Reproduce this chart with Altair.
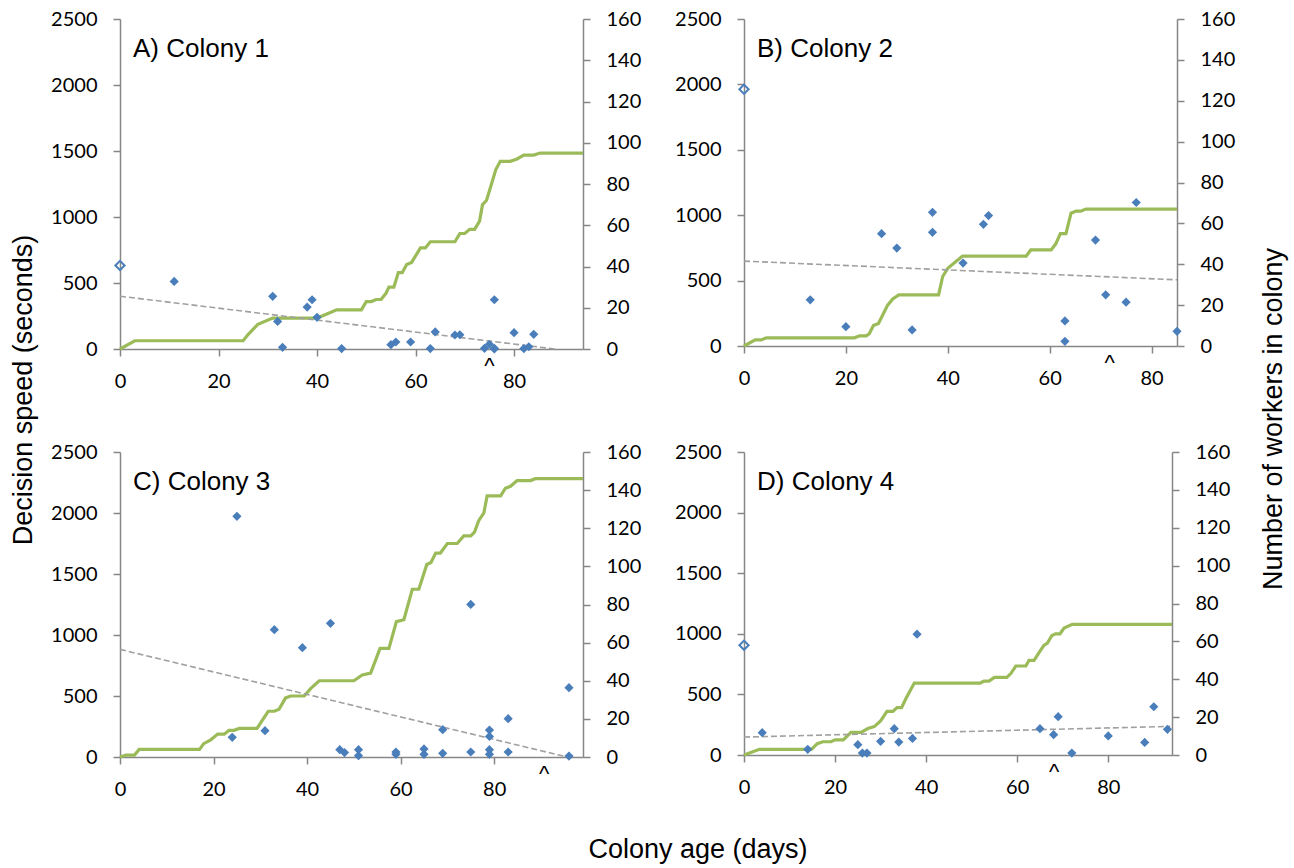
import altair as alt
import pandas as pd

BLUE = "#4A7EBB"
GREEN = "#9BBB59"
AX = "#868686"
TREND = "#A0A0A0"

# ---------------- data ----------------
# Colony 1
a_days = [11, 31, 32, 33, 38, 39, 40, 45, 55, 56, 59, 63, 64, 68, 69, 74, 75, 76, 76, 76, 80, 82, 83, 84]
a_speed = [512, 399, 209, 13, 318, 373, 240, 3, 33, 53, 53, 3, 129, 106, 108, 5, 36, 5, 0, 373, 124, 3, 17, 111]
a_open_day = [0]
a_open_speed = [633]
a_line_day = [0, 3, 25, 26, 28, 31, 40, 42, 44, 49, 50, 51, 52, 53, 54, 54.6, 55.6, 56.5, 57.3, 58.2, 59.2,
              61, 62, 63, 68, 69, 70, 71, 72, 73, 73.6, 74.4, 75.3, 76.3, 77.2, 79.2, 80.5, 82, 84, 85.3, 94]
a_line_workers = [0, 4, 4, 7, 12, 15, 15, 17, 19, 19, 23, 23, 24, 24, 27, 30, 30, 37, 37, 41, 42,
                  49, 49, 52, 52, 56, 56, 58, 58, 62, 70, 72, 79, 87, 91, 91, 92, 94, 94, 95, 95]
a_trend_day = [0, 88.3]
a_trend_speed = [400, 0]
a_caret_day = [75]

# Colony 2
b_days = [13, 20, 27, 30, 33, 37, 37, 43, 47, 48, 63, 63, 69, 71, 75, 77, 85]
b_speed = [353, 148, 859, 749, 123, 1022, 869, 634, 930, 997, 192, 36, 810, 391, 335, 1097, 112]
b_open_day = [0]
b_open_speed = [1963]
b_line_day = [0, 2.2, 3.4, 4.4, 21.7, 22.7, 24, 24.6, 25.4, 26.4, 28.2, 29.2, 30.4, 38.2, 39, 40, 42.9,
              55.4, 56.3, 60.3, 61.2, 62.1, 63.2, 64.2, 65.2, 66.1, 67.1, 85]
b_line_workers = [0, 3, 3, 4, 4, 5, 5, 6, 10, 11, 20, 23, 25, 25, 34, 38, 44,
                  44, 47, 47, 50, 55, 55, 65, 66, 66, 67, 67]
b_trend_day = [0, 85]
b_trend_speed = [649, 506]
b_caret_day = [71.8]

# Colony 3
c_days = [24, 25, 31, 33, 39, 45, 47, 48, 51, 51, 59, 59, 65, 65, 69, 69, 75, 75, 79, 79, 79, 79, 83, 83, 96, 96]
c_speed = [161, 1973, 216, 1044, 896, 1096, 60, 36, 60, 11, 41, 22, 66, 22, 224, 30, 1251, 41, 221, 169, 60, 22, 314, 41, 568, 8]
c_open_day = []
c_open_speed = []
c_line_day = [0, 1.3, 3.1, 4.1, 17, 17.9, 19.4, 20.9, 22.3, 23.3, 24.4, 25.5, 29.3, 30.1, 31.7, 33, 34, 35.4,
              36.5, 39.4, 40.8, 42.6, 50, 51.8, 53.6, 55.6, 57.5, 59.1, 60.7, 62.5, 63.9, 65.6, 66.5, 67.5,
              68.5, 70, 72.1, 73.5, 75, 75.8, 76.7, 77.8, 78.5, 81.4, 82.4, 83.5, 84.9, 87.8, 88.8, 99]
c_line_workers = [0, 1, 1, 4, 4, 7, 9, 12, 12, 14, 14, 15, 15, 18, 24, 24, 25, 31,
                  32, 32, 36, 40, 40, 43, 44, 57, 57, 71, 72, 88, 88, 101, 102, 107,
                  107, 112, 112, 116, 116, 118, 124, 128, 137, 137, 141, 142, 145, 145, 146, 146]
c_trend_day = [0, 95.6]
c_trend_speed = [882, 0]
c_caret_day = [90.7]

# Colony 4
d_days = [4, 14, 25, 26, 27, 30, 33, 34, 37, 38, 65, 68, 69, 72, 80, 88, 90, 93]
d_speed = [184, 47, 85, 16, 16, 113, 217, 107, 137, 997, 217, 168, 316, 16, 157, 104, 398, 212]
d_open_day = [0]
d_open_speed = [906]
d_line_day = [0, 3.4, 14.8, 16.1, 17.3, 19.1, 20, 21.8, 23.5, 25.7, 27.2, 28.6, 30, 31.4, 32.7, 33.6, 34.6,
              35.6, 37.4, 51.9, 52.7, 53.8, 55, 57.7, 58.6, 59.7, 61.9, 62.6, 63.7, 64.8, 65.9, 66.6, 67.6,
              68.4, 69.4, 70.3, 72.1, 94]
d_line_workers = [0, 3, 3, 6, 7, 7, 8, 8, 12, 12, 14, 15, 18, 23, 23, 25, 25,
                  30, 38, 38, 39, 39, 41, 41, 43, 47, 47, 50, 50, 54, 58, 59, 63,
                  64, 64, 67, 69, 69]
d_trend_day = [0, 93.6]
d_trend_speed = [148, 236]
d_caret_day = [68.1]

labels = ["A) Colony 1", "B) Colony 2", "C) Colony 3", "D) Colony 4"]
x_max = [94, 85, 99, 94]
x_ticks = [0, 20, 40, 60, 80]
speed_ticks = [0, 500, 1000, 1500, 2000, 2500]
worker_ticks = [0, 20, 40, 60, 80, 100, 120, 140, 160]

TICK_FONT = "Lato"
TEXT_FONT = "Liberation Sans"


def axis_common(**kw):
    return alt.Axis(title=None, grid=False, domainColor=AX, domainWidth=1.5, tickColor=AX,
                    tickWidth=1.5, tickSize=7, labelFont=TICK_FONT, labelFontSize=20,
                    labelColor="black", labelOverlap=False, format="d", **kw)


def panel(days, speed, open_day, open_speed, line_day, line_workers, trend_day, trend_speed,
          caret_day, label, xmax, w, h, extra=None):
    xenc = alt.X("day:Q", scale=alt.Scale(domain=[0, xmax], nice=False, zero=False),
                 axis=axis_common(values=x_ticks, labelPadding=15, labelFlush=False))
    yscale = alt.Scale(domain=[0, 2500], nice=False)
    yaxis = axis_common(values=speed_ticks, orient="left", labelPadding=16)

    line = alt.Chart(pd.DataFrame({"day": line_day, "workers": line_workers})).mark_line(
        color=GREEN, strokeWidth=3.2, interpolate="linear"
    ).encode(
        x=xenc,
        y=alt.Y("workers:Q", scale=alt.Scale(domain=[0, 160], nice=False),
                axis=axis_common(values=worker_ticks, orient="right", labelPadding=16)),
    )

    trend = alt.Chart(pd.DataFrame({"day": trend_day, "speed": trend_speed})).mark_line(
        color=TREND, strokeWidth=1.6, strokeDash=[6, 3]
    ).encode(x=xenc, y=alt.Y("speed:Q", scale=yscale, axis=yaxis))

    pts = alt.Chart(pd.DataFrame({"day": days, "speed": speed})).mark_point(
        shape="diamond", filled=True, size=85, color=BLUE, opacity=1
    ).encode(x=xenc, y=alt.Y("speed:Q", scale=yscale, axis=yaxis))

    left_layers = [trend, pts]
    if open_day:
        openp = alt.Chart(pd.DataFrame({"day": open_day, "speed": open_speed})).mark_point(
            shape="diamond", filled=False, size=85, color=BLUE, strokeWidth=2, opacity=1
        ).encode(x=xenc, y=alt.Y("speed:Q", scale=yscale, axis=yaxis))
        left_layers.append(openp)

    caret = alt.Chart(pd.DataFrame({"day": caret_day, "t": ["^"] * len(caret_day)})).mark_text(
        font=TEXT_FONT, fontSize=22, color="black", baseline="alphabetic", align="center"
    ).encode(x=xenc, y=alt.value(h + 24), text="t:N")

    lab = alt.Chart(pd.DataFrame({"t": [label]})).mark_text(
        font=TEXT_FONT, fontSize=26, color="black", align="left", baseline="alphabetic"
    ).encode(x=alt.value(13), y=alt.value(38), text="t:N")

    left_layers += [caret, lab]
    if extra is not None:
        left_layers += extra

    left = alt.layer(*left_layers)
    return alt.layer(line, left).resolve_scale(y="independent").properties(width=w, height=h)


def title_text(txt, x, y, angle=0):
    kw = dict(font=TEXT_FONT, fontSize=27, color="black", align="center")
    if angle:
        kw["angle"] = angle
        kw["baseline"] = "middle"
    else:
        kw["baseline"] = "alphabetic"
    return alt.Chart(pd.DataFrame({"t": [txt]})).mark_text(**kw).encode(
        x=alt.value(x), y=alt.value(y), text="t:N")


pA = panel(a_days, a_speed, a_open_day, a_open_speed, a_line_day, a_line_workers, a_trend_day,
           a_trend_speed, a_caret_day, labels[0], x_max[0], 463, 330,
           extra=[title_text("Decision speed (seconds)", -96, 371, 270)])
pB = panel(b_days, b_speed, b_open_day, b_open_speed, b_line_day, b_line_workers, b_trend_day,
           b_trend_speed, b_caret_day, labels[1], x_max[1], 433, 327,
           extra=[title_text("Number of workers in colony", 530, 400, 270)])
pC = panel(c_days, c_speed, c_open_day, c_open_speed, c_line_day, c_line_workers, c_trend_day,
           c_trend_speed, c_caret_day, labels[2], x_max[2], 463, 305,
           extra=[title_text("Colony age (days)", 578, 406)])
pD = panel(d_days, d_speed, d_open_day, d_open_speed, d_line_day, d_line_workers, d_trend_day,
           d_trend_speed, d_caret_day, labels[3], x_max[3], 428, 303)

chart = alt.concat(pA, pB, pC, pD, columns=2, spacing={"row": 103, "column": 161},
                   bounds="flush", align="each").properties(
    padding={"left": 10, "top": 9, "right": 5, "bottom": 2},
    background="white",
).configure_view(strokeWidth=0)

chart.save("out.html", embed_options={"renderer": "svg", "actions": False})
